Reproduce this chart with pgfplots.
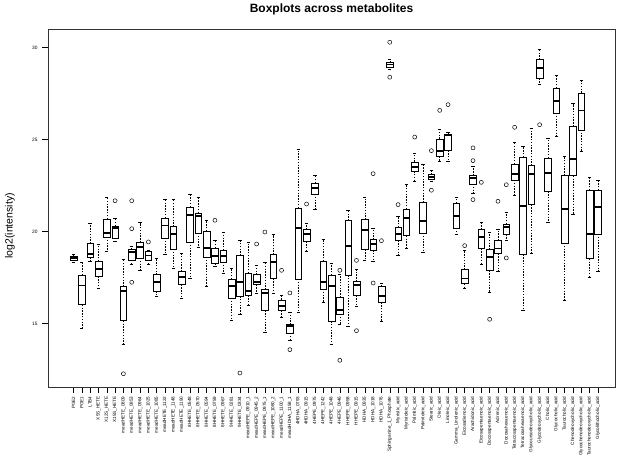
\documentclass[border=0pt]{standalone}
\usepackage{pgfplots}
\pgfplotsset{compat=1.18}
\usepackage{pgfplotstable}
\usepgfplotslibrary{statistics}
\usepackage{fontspec}
\setmainfont{Liberation Sans}

\pgfplotstableread{
x lw q1 med q3 uw
1 18.35 18.46 18.57 18.66 18.79
2 14.76 16.03 17.07 17.63 18.33
3 18.39 18.61 18.79 19.35 20.45
4 16.94 17.57 17.97 18.39 19.29
5 18.93 19.71 19.93 20.69 21.87
6 19.47 19.66 20.20 20.31 20.74
7 13.90 15.16 16.79 17.01 18.48
8 18.24 18.46 18.91 19.04 19.20
9 17.90 18.57 19.17 19.42 20.49
10 18.21 18.46 18.70 18.93 19.00
11 16.49 16.76 17.26 17.66 18.57
12 18.79 19.66 20.33 20.74 21.74
13 18.03 19.06 19.87 20.27 21.78
14 16.40 17.12 17.52 17.84 18.82
15 17.45 19.44 20.92 21.34 22.05
16 19.15 19.93 20.87 21.01 21.87
17 17.03 18.62 19.11 20.02 20.62
18 18.12 18.26 18.66 19.11 19.51
19 17.75 18.35 18.66 18.99 19.98
20 15.18 16.40 17.03 17.43 17.99
21 15.49 16.49 17.26 18.70 19.51
22 15.98 16.54 16.79 17.75 19.44
23 16.67 17.12 17.25 17.66 18.17
24 14.55 15.72 16.67 16.85 18.33
25 16.67 17.45 18.33 18.75 19.84
26 15.36 15.71 15.98 16.30 16.54
27 14.08 14.49 14.89 14.95 15.63
28 15.63 17.43 20.20 21.29 24.46
29 18.93 19.47 19.89 20.11 20.45
30 21.20 22.05 22.37 22.64 23.06
31 16.16 16.88 17.25 18.39 19.57
32 13.91 15.13 17.03 17.63 18.30
33 14.98 15.53 15.76 16.43 17.70
34 14.85 17.63 19.24 20.60 21.16
35 15.94 16.54 17.12 17.30 17.94
36 18.42 19.02 20.11 20.65 21.87
37 18.39 18.99 19.35 19.57 20.20
38 15.13 16.16 16.52 17.03 17.21
39 28.84 28.95 29.08 29.20 29.38
40 18.70 19.53 19.89 20.24 20.83
41 19.11 19.78 20.74 21.23 22.59
42 22.74 23.28 23.50 23.79 24.24
43 18.88 19.93 20.56 21.59 23.68
44 22.74 22.86 22.99 23.10 23.33
45 23.82 24.09 24.40 25.04 25.58
46 23.82 24.42 25.27 25.31 25.42
47 19.84 20.20 20.83 21.56 21.88
48 16.90 17.17 17.45 17.94 18.99
49 22.10 22.59 22.90 23.06 23.55
50 18.21 19.08 19.71 20.11 20.52
51 16.70 17.88 18.62 19.02 19.98
52 17.84 18.81 19.08 19.53 20.14
53 19.51 19.84 20.24 20.42 21.07
54 21.97 22.81 23.15 23.68 24.87
55 15.72 18.75 21.38 24.04 24.64
56 18.82 21.47 23.15 23.59 25.63
57 27.99 28.32 28.90 29.35 29.89
58 20.52 22.19 23.19 24.00 25.09
59 25.18 26.45 27.08 27.81 28.48
60 16.30 19.38 21.25 23.06 24.09
61 20.92 23.04 23.95 25.72 26.96
62 24.37 25.53 26.58 27.54 28.21
63 17.54 18.53 19.89 22.25 22.95
64 17.84 19.87 21.36 22.25 22.79
}\boxdata

\pgfplotstableread{
x y
6 21.68
7 12.28
8 21.68
8 20.16
8 17.25
10 19.44
18 20.62
21 12.32
23 19.33
24 19.98
26 17.90
27 16.67
27 13.59
29 21.50
33 17.90
33 13.01
35 18.44
35 14.62
37 23.15
37 17.21
38 19.51
39 30.29
39 28.39
40 21.47
42 25.14
44 24.40
44 22.25
45 26.59
46 26.90
48 19.24
49 24.55
49 23.86
49 21.74
50 22.68
51 15.24
52 21.65
53 22.55
53 18.57
54 25.67
57 25.81
}\outdata

\begin{document}
\begin{tikzpicture}
\useasboundingbox (0pt,0pt) rectangle (623pt,467pt);
\begin{axis}[
  at={(48pt,80pt)}, anchor=south west,
  scale only axis, width=567pt, height=358pt,
  xmin=-2.06, xmax=66.06, ymin=11.56, ymax=31.01,
  axis line style={black!80, line width=0.6pt},
  tick pos=left, tick align=outside,
  major tick length=6pt,
  tick style={black, line width=0.5pt},
  ytick={15,20,25,30},
  yticklabel style={font=\fontsize{4.8}{5}\selectfont, xshift=-1pt},
  /pgf/number format/assume math mode=true,
  xtick={1,...,64},
  xticklabels={PGE2,PGE1,LTB4,X5S\_HETE,X12S\_HETE,X15S\_HETE,
    meadHETE\_0809,meadHETE\_0853,meadHETE\_0964,meadHETE\_1025,meadHETE\_1085,meadHETE\_1122,meadHETE\_1148,meadHETE\_1190,
    8HHETE\_0548,8HHETE\_0570,8HHETE\_0594,8HHETE\_0759,8HHETE\_0967,9HHETE\_0281,9HHETE\_0334,
    meadHEPE\_0910\_1,meadHEPE\_0945\_2,meadHEPE\_0975\_1,meadHEPE\_1080\_2,meadHEPE\_1100\_1,meadHDHA\_1158\_1,
    4HDHA\_0793,4HDHA\_0915,4HEPE\_0975,4HEPE\_1242,4HEPE\_1048,4HEPE\_0946,HHEPE\_0958,HHEPE\_0915,
    HDHA\_0935,HDHA\_1018,HDHA\_1076,Sphinganine\_1\_Phosphate,Myristic\_acid,Myristoleic\_acid,
    Palmitic\_acid,Palmitoleic\_acid,Stearic\_acid,Oleic\_acid,Linoleic\_acid,Gamma\_Linolenic\_acid,
    Eicosadienoic\_acid,Arachidonic\_acid,Eicosapentaenoic\_acid,Docosapentaenoic\_acid,Adrenic\_acid,
    Docosahexaenoic\_acid,Tetracosapentaenoic\_acid,Tetracosahexaenoic\_acid,Glycoursodeoxycholic\_acid,
    Glycodeoxycholic\_acid,Cholic\_acid,Glycocholic\_acid,Taurocholic\_acid,Chenodeoxycholic\_acid,
    Glycochenodeoxycholic\_acid,Taurochenodeoxycholic\_acid,Glycolithocholic\_acid},
  xticklabel style={rotate=90, anchor=east, font=\fontsize{4.6}{5}\selectfont},
  title={Boxplots across metabolites},
  title style={font=\bfseries\fontsize{12}{14}\selectfont, at={(axis description cs:0.5,1)}, anchor=center, yshift=14pt},
  ylabel={log2(intensity)},
  ylabel style={font=\fontsize{10.5}{12}\selectfont, at={(axis description cs:-0.067,0.45)}, anchor=center},
  boxplot/draw direction=y,
  boxplot/box extend=0.8,
  boxplot/whisker extend=0.4,
  boxplot/every box/.style={draw=black, fill=white, line width=0.5pt},
  boxplot/every median/.style={draw=black, line width=1.8pt},
  boxplot/every whisker/.style={draw=black, line width=0.5pt, dash pattern=on 1.4pt off 1.4pt},
  boxplot/draw/lower whisker/.code={%
    \draw[/pgfplots/boxplot/every whisker/.try]
      (boxplot cs:\pgfplotsboxplotvalue{lower quartile}) -- (boxplot cs:\pgfplotsboxplotvalue{lower whisker});
    \draw[black, line width=0.5pt]
      (boxplot whisker cs:\pgfplotsboxplotvalue{lower whisker},0) -- (boxplot whisker cs:\pgfplotsboxplotvalue{lower whisker},1);
  },
  boxplot/draw/upper whisker/.code={%
    \draw[/pgfplots/boxplot/every whisker/.try]
      (boxplot cs:\pgfplotsboxplotvalue{upper quartile}) -- (boxplot cs:\pgfplotsboxplotvalue{upper whisker});
    \draw[black, line width=0.5pt]
      (boxplot whisker cs:\pgfplotsboxplotvalue{upper whisker},0) -- (boxplot whisker cs:\pgfplotsboxplotvalue{upper whisker},1);
  },
]
\pgfplotsinvokeforeach{0,...,63}{
  \pgfplotstablegetelem{#1}{lw}\of\boxdata \edef\vlw{\pgfplotsretval}
  \pgfplotstablegetelem{#1}{q1}\of\boxdata \edef\vqa{\pgfplotsretval}
  \pgfplotstablegetelem{#1}{med}\of\boxdata \edef\vmed{\pgfplotsretval}
  \pgfplotstablegetelem{#1}{q3}\of\boxdata \edef\vqb{\pgfplotsretval}
  \pgfplotstablegetelem{#1}{uw}\of\boxdata \edef\vuw{\pgfplotsretval}
  \pgfplotstablegetelem{#1}{x}\of\boxdata \edef\vx{\pgfplotsretval}
  \edef\doboxplot{\noexpand\addplot[black,
    boxplot prepared={draw position=\vx,
      lower whisker=\vlw, lower quartile=\vqa, median=\vmed,
      upper quartile=\vqb, upper whisker=\vuw}] coordinates {};}
  \doboxplot
}
\addplot[only marks, mark=o, mark size=2pt, black, line width=0.5pt] table[x=x, y=y] {\outdata};
\end{axis}
\end{tikzpicture}
\end{document}
